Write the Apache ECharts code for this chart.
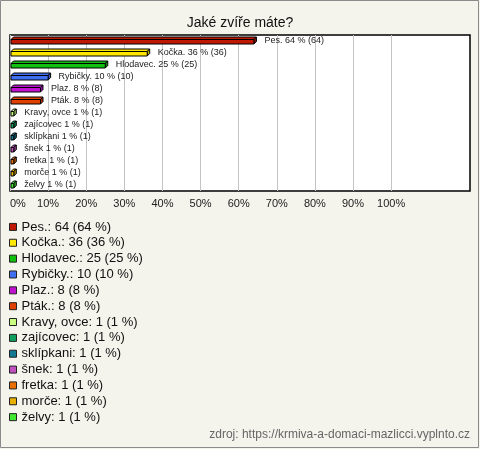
<!DOCTYPE html>
<html><head><meta charset="utf-8">
<script src="https://cdn.jsdelivr.net/npm/echarts@6/dist/echarts.min.js"></script>
<style>html,body{margin:0;padding:0;background:#f4f3ec;}#c{width:480px;height:449px;}</style>
</head><body><div id="c"></div>
<script>
const categories = ['Pes.', 'Kočka.', 'Hlodavec.', 'Rybičky.', 'Plaz.', 'Pták.', 'Kravy, ovce', 'zajícovec', 'sklípkani', 'šnek', 'fretka', 'morče', 'želvy'];
const counts = [64, 36, 25, 10, 8, 8, 1, 1, 1, 1, 1, 1, 1];
const percents = [64, 36, 25, 10, 8, 8, 1, 1, 1, 1, 1, 1, 1];
const colors = ['#c01800', '#ffe800', '#10c010', '#4070f0', '#c010d0', '#e04000', '#c8ff80', '#10a060', '#107890', '#c050c0', '#e87000', '#e8b000', '#40e830'];
const tickLabels = ['0%', '10%', '20%', '30%', '40%', '50%', '60%', '70%', '80%', '90%', '100%'];

const FONT = 'Arial, "Liberation Sans", sans-serif';

function shade(hex, f) {
  const n = parseInt(hex.slice(1), 16);
  let r = (n >> 16) & 255, g = (n >> 8) & 255, b = n & 255;
  r = Math.round(r * f); g = Math.round(g * f); b = Math.round(b * f);
  return 'rgb(' + r + ',' + g + ',' + b + ')';
}

function renderBar(params, api) {
  const idx = api.value(1);
  const v = api.value(0);
  const p0 = api.coord([0, idx]);
  const p1 = api.coord([v, idx]);
  const c = p0[1];
  const x0 = p0[0] + 1, x1 = p1[0];
  const d = 2.5;
  const color = api.visual('color');
  const top = c - 1.5, bot = c + 3;
  const stroke = { stroke: '#000', lineWidth: 1 };
  const si = params.seriesIndex;
  return {
    type: 'group',
    children: [
      { type: 'polygon', shape: { points: [[x0, top], [x0 + d, top - d], [x1 + d, top - d], [x1, top]] },
        style: Object.assign({ fill: color }, stroke) },
      { type: 'polygon', shape: { points: [[x1, top], [x1 + d, top - d], [x1 + d, bot - d], [x1, bot]] },
        style: Object.assign({ fill: shade(colors[si], 0.75) }, stroke) },
      { type: 'rect', shape: { x: x0, y: top, width: Math.max(x1 - x0, 1), height: bot - top },
        style: Object.assign({ fill: color }, stroke) },
      { type: 'text', x: x1 + 10.5, y: c,
        style: { text: categories[si] + ' ' + percents[si] + ' % (' + counts[si] + ')',
          fill: '#222', font: '9px ' + FONT, verticalAlign: 'middle', align: 'left' } }
    ]
  };
}

const gridColors = [];
for (let i = 0; i < 16; i++) gridColors.push(i <= 10 ? '#c4c4c4' : 'rgba(0,0,0,0)');

const series = categories.map((name, i) => ({
  type: 'custom',
  name: name,
  renderItem: renderBar,
  itemStyle: { color: colors[i] },
  encode: { x: 0, y: 1 },
  data: [[counts[i], i]],
  z: 3
}));

const chart = echarts.init(document.getElementById('c'), null, { renderer: 'canvas' });
chart.setOption({
  backgroundColor: '#f4f3ec',
  animation: false,
  color: colors,
  textStyle: { fontFamily: FONT },
  title: {
    text: 'Jaké zvíře máte?', left: 'center', top: 11,
    textStyle: { fontSize: 14, fontWeight: 'normal', color: '#111', fontFamily: FONT }
  },
  grid: {
    left: 10, top: 35, width: 460, height: 156, show: true,
    backgroundColor: '#ffffff', borderColor: '#000', borderWidth: 1.5, containLabel: false
  },
  xAxis: {
    type: 'value', min: 0, max: 120.7, interval: 10,
    axisLine: { show: false }, axisTick: { show: false },
    splitLine: { show: true, lineStyle: { color: gridColors, width: 1 } },
    axisLabel: {
      color: '#222', fontSize: 11, fontFamily: FONT, margin: 7,
      alignMinLabel: 'left',
      formatter: function (v) { const k = Math.round(v / 10); return (v % 10 === 0 && k < tickLabels.length) ? tickLabels[k] : ''; }
    }
  },
  yAxis: {
    type: 'category', data: categories, inverse: true,
    axisLine: { show: false }, axisTick: { show: false }, axisLabel: { show: false }, splitLine: { show: false }
  },
  legend: {
    orient: 'vertical', left: 9, top: 219, itemGap: 0, padding: 0,
    icon: 'rect', itemWidth: 7, itemHeight: 7,
    itemStyle: { borderColor: '#222', borderWidth: 1 },
    selectedMode: false,
    data: categories,
    textStyle: { fontSize: 13, color: '#111', fontFamily: FONT, lineHeight: 15.85, padding: 0 },
    formatter: function (name) {
      const i = categories.indexOf(name);
      return name + ': ' + counts[i] + ' (' + percents[i] + ' %)';
    }
  },
  graphic: [
    { type: 'rect', shape: { x: 0.5, y: 0.5, width: 478, height: 447 }, style: { fill: 'none', stroke: '#8a8a8a', lineWidth: 1 }, silent: true, z: 100 },
    { type: 'text', right: 10, top: 429,
      style: { text: 'zdroj: https://krmiva-a-domaci-mazlicci.vyplnto.cz', fill: '#666', font: '12px ' + FONT } }
  ],
  series: series
});
</script></body></html>
